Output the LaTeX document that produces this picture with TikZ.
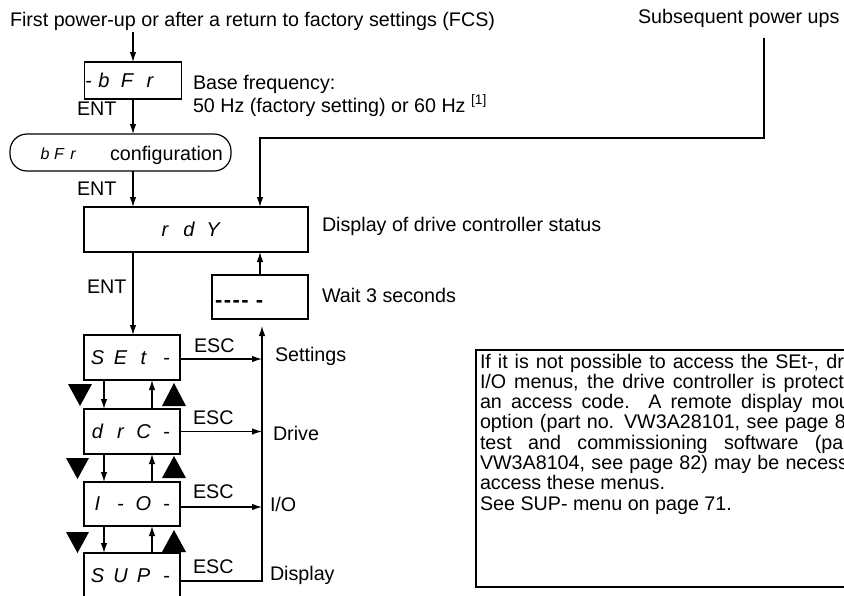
\documentclass[tikz,border=0pt]{standalone}
\usepackage{fontspec}
\setmainfont{Liberation Sans}
\usetikzlibrary{arrows.meta}
\newcommand\sg[1]{\makebox[23pt]{#1}}
\newcommand\segf{\fontsize{20}{20}\selectfont\itshape}
\begin{document}
\begin{tikzpicture}[x=1pt,y=-1pt,
  every node/.style={inner sep=0pt,outer sep=0pt,font=\fontsize{19.7}{20.3}\selectfont},
  lbl/.style={anchor=base west},
  boxn/.style={draw,line width=1.2pt,minimum width=96pt,minimum height=45pt},
  arr/.style={line width=1.2pt,-{Latex[length=10pt,width=6.5pt]}},
  tri/.style={fill=black}]
\clip (0,0) rectangle (844,595);
\fill[white] (0,0) rectangle (844,595);
% top texts
\node[lbl] (t1) at (10,26) {First power-up or after a return to factory settings (FCS)};
\node[lbl] (t2) at (638,23) {Subsequent power ups};
% bFr box
\node[draw,line width=1.2pt,minimum width=97pt,minimum height=37pt] (bfr) at (133,80.5)
  {\makebox[97pt][l]{\segf\makebox[8pt]{-}\sg{b}\sg{F}\sg{r}}};
\node[lbl] (bf1) at (193,89) {Base frequency:};
\node[lbl] (bf2) at (193,112) {50 Hz (factory setting) or 60 Hz \textsuperscript{[1]}};
\node[lbl] (ent1) at (77,115) {ENT};
% configuration
\node[draw,line width=1.2pt,rounded corners=17pt,minimum width=221pt,minimum height=37pt] (cfg) at (120.5,152.5) {};
\node[anchor=west] (cfgseg) at (38,154) {\fontsize{16}{16}\selectfont\itshape\makebox[14pt]{b}\makebox[14pt]{F}\makebox[14pt]{r}};
\node[lbl] (cfgtxt) at (110,160) {configuration};
\node[lbl] (ent2) at (77,195) {ENT};
% rdy
\node[draw,line width=1.2pt,minimum width=224pt,minimum height=45pt] (rdy) at (196,229.5)
  {\makebox[224pt][l]{\segf\hspace*{69pt}\makebox[24pt]{r}\makebox[24pt]{d}\makebox[24pt]{Y}}};
\node[lbl] (st) at (322,231) {Display of drive controller status};
% wait
\node[boxn,minimum height=44pt] (wait) at (260,297) {};
\node[anchor=west] (waittxt) at (215,304) {\fontsize{22}{22}\selectfont\bfseries -\kern1.5pt-\kern1.5pt-\kern1.5pt-\kern7pt-};
\node[lbl] (w3) at (322,302) {Wait 3 seconds};
\node[lbl] (ent3) at (87,293) {ENT};
% menus
\node[boxn] (set) at (132,357.5) {\makebox[96pt][l]{\segf\hspace*{2pt}\sg{S}\sg{E}\sg{t}\sg{-}}};
\node[boxn] (drc) at (132,431.5) {\makebox[96pt][l]{\segf\hspace*{2pt}\sg{d}\sg{r}\sg{C}\sg{-}}};
\node[boxn,minimum height=44pt] (io) at (132,504) {\makebox[96pt][l]{\segf\hspace*{2pt}\sg{I}\sg{-}\sg{O}\sg{-}}};
\node[boxn] (sup) at (132,575.5) {\makebox[96pt][l]{\segf\hspace*{2pt}\sg{S}\sg{U}\sg{P}\sg{-}}};
% labels right
\node[lbl] (esc1) at (194,352) {ESC};
\node[lbl] (esc2) at (193,424) {ESC};
\node[lbl] (esc3) at (193,498) {ESC};
\node[lbl] (esc4) at (193,573) {ESC};
\node[lbl] (l1) at (275,361) {Settings};
\node[lbl] (l2) at (273,440) {Drive};
\node[lbl] (l3) at (270,511) {I/O};
\node[lbl] (l4) at (270,580) {Display};
% note box
\node[draw,line width=2pt,minimum width=420pt,minimum height=237pt,anchor=north west] (note) at (476,350) {};
\node[lbl] (n1) at (480,368) {\makebox[364pt][s]{If it is not possible to access the SEt-, dr}};
\node[lbl] (n2) at (480,388.3) {\makebox[364pt][s]{I/O menus, the drive controller is protect}};
\node[lbl] (n3) at (480,408.6) {\makebox[370pt][s]{an access code. A remote display mou}};
\node[lbl] (n4) at (480,428.9) {\makebox[366pt][s]{option (part no. VW3A28101, see page 8}};
\node[lbl] (n5) at (480,449.2) {\makebox[370pt][s]{test and commissioning software (par}};
\node[lbl] (n6) at (480,469.5) {\makebox[368pt][s]{VW3A8104, see page 82) may be necess}};
\node[lbl] (n7) at (480,489.8) {access these menus.};
\node[lbl] (n8) at (480,510.1) {See SUP- menu on page 71.};
% coordinates
\coordinate (s1) at (133,32);
\coordinate (s2) at (764,38);
\coordinate (k) at (260,138);
\coordinate (bus) at (262,326);
\coordinate (dn) at (104,0);
\coordinate (up) at (152,0);
% connectors
\draw[arr] (s1) -- (bfr.north);
\draw[arr] (bfr.south) -- (bfr.south |- cfg.north);
\draw[arr] (bfr.south |- cfg.south) -- (bfr.south |- rdy.north);
\draw[arr] (s2) |- (k) -- (k |- rdy.north);
\draw[arr] (wait.north) -- (wait.north |- rdy.south);
\draw[arr] (bfr.south |- rdy.south) -- (bfr.south |- set.north);
\draw[arr] ([yshift=-1.5pt]set.east) -- ([yshift=-1.5pt]set.east -| bus);
\draw[arr] (drc.east) -- (drc.east -| bus);
\draw[arr] ([yshift=-3pt]io.east) -- ([yshift=-3pt]io.east -| bus);
\draw[arr] ([yshift=-5.5pt]sup.east) -| (bus);
\foreach \a/\b in {set/drc,drc/io,io/sup}{
  \draw[arr] (\a.south -| dn) -- (\b.north -| dn);
  \draw[arr] (\b.north -| up) -- (\a.south -| up);
}
% triangles
\fill[tri] (68,384) -- (92,384) -- (80,406) -- cycle;
\fill[tri] (66,458) -- (89,458) -- (77.5,479) -- cycle;
\fill[tri] (66,532) -- (89,532) -- (77.5,553) -- cycle;
\fill[tri] (162,406) -- (186,406) -- (174,383) -- cycle;
\fill[tri] (162,478) -- (186,478) -- (174,456) -- cycle;
\fill[tri] (162,552) -- (186,552) -- (174,530) -- cycle;
\end{tikzpicture}
\end{document}
